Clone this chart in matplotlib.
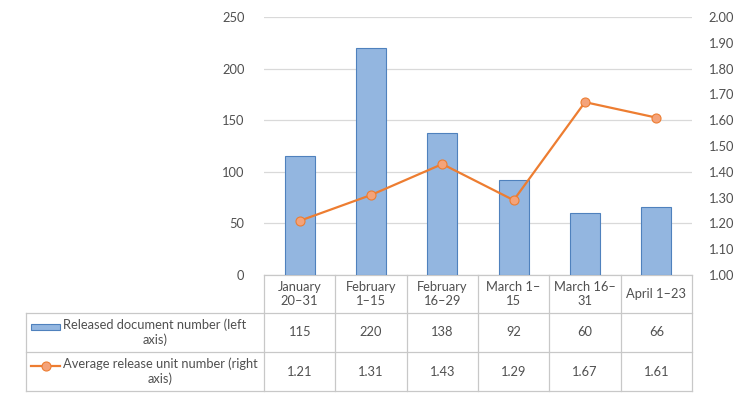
import numpy as np
import matplotlib
matplotlib.use("Agg")
import matplotlib.pyplot as plt
import matplotlib.transforms as mtransforms
from matplotlib.lines import Line2D
from matplotlib.patches import Rectangle

periods   = ["January\n20–31", "February\n1–15", "February\n16–29",
             "March 1–\n15", "March 16–\n31", "April 1–23"]
documents = [115, 220, 138, 92, 60, 66]
avg_units = [1.21, 1.31, 1.43, 1.29, 1.67, 1.61]
series_names = ["Released document number (left\naxis)",
                "Average release unit number (right\naxis)"]

BAR_FC  = '#93B6E0'
BAR_EC  = '#4F81BD'
LINE_C  = '#ED7D31'
MARK_FC = '#F4A37A'
GRID    = '#D9D9D9'
TXT     = '#505050'
FS      = 9.3

plt.rcParams['font.family'] = ['Lato', 'DejaVu Sans']

W, H = 739, 398
fig = plt.figure(figsize=(W / 100, H / 100), dpi=100, facecolor='white')
ax = fig.add_axes([264 / W, 1 - 275 / H, (692 - 264) / W, (275 - 17) / H])
ax2 = ax.twinx()

x = np.arange(len(periods))
ax.bar(x, documents, width=0.42, color=BAR_FC, edgecolor=BAR_EC, linewidth=0.8, zorder=3)
ax.set_xlim(-0.5, len(periods) - 0.5)
ax.set_ylim(0, 250)
ax.set_yticks(np.arange(0, 251, 50))
ax.yaxis.grid(True, color=GRID, lw=0.9, zorder=0)
ax.set_axisbelow(True)
ax.set_xticks([])
ax.tick_params(axis='y', length=0, pad=14, labelsize=FS, labelcolor=TXT)

ax2.plot(x, avg_units, color=LINE_C, lw=1.6, marker='o', ms=6.5,
         mfc=MARK_FC, mec=LINE_C, mew=0.8, zorder=4)
ax2.set_ylim(1.0, 2.0)
ax2.set_yticks(np.arange(1.0, 2.01, 0.1))
ax2.yaxis.set_major_formatter(matplotlib.ticker.FormatStrFormatter('%.2f'))
ax2.tick_params(axis='y', length=0, pad=12, labelsize=FS, labelcolor=TXT)

for a in (ax, ax2):
    for s in a.spines.values():
        s.set_visible(False)

# data table under the plot
trans = mtransforms.blended_transform_factory(ax.transData, ax.transAxes)
row_edges = [0, -38 / 258, -77 / 258, -116 / 258]
px = len(periods) / 428          # one pixel in data units along x
left_x = -0.5 - (264 - 26) * px
line_kw = dict(color='#C8C8C8', lw=0.9, transform=trans, clip_on=False)

# horizontal lines
ax.add_line(Line2D([-0.5, len(periods) - 0.5], [row_edges[0]] * 2, **line_kw))
for yv in row_edges[1:]:
    ax.add_line(Line2D([left_x, len(periods) - 0.5], [yv, yv], **line_kw))
# vertical lines
for xv in np.arange(-0.5, len(periods), 1.0):
    ax.add_line(Line2D([xv, xv], [row_edges[0], row_edges[-1]], **line_kw))
ax.add_line(Line2D([left_x, left_x], [row_edges[1], row_edges[-1]], **line_kw))

txt_kw = dict(transform=trans, ha='center', va='center', fontsize=FS,
              color=TXT, linespacing=1.2, clip_on=False)
for i, p in enumerate(periods):
    ax.text(i, (row_edges[0] + row_edges[1]) / 2, p, **txt_kw)
    ax.text(i, (row_edges[1] + row_edges[2]) / 2, str(documents[i]), **txt_kw)
    ax.text(i, (row_edges[2] + row_edges[3]) / 2, f"{avg_units[i]:.2f}", **txt_kw)

# row labels with legend keys
lab_kw = dict(txt_kw, ha='left', multialignment='center')
for r, name in enumerate(series_names):
    ax.text(left_x + 37 * px, (row_edges[r + 1] + row_edges[r + 2]) / 2, name, **lab_kw)

key_x0 = left_x + 5 * px
key_w = 29 * px
y_key1 = (row_edges[1] + row_edges[2]) / 2 + 6 / 258
ax.add_patch(Rectangle((key_x0, y_key1 - 3 / 258), key_w, 6 / 258, transform=trans,
                       facecolor=BAR_FC, edgecolor=BAR_EC, lw=0.8, clip_on=False))
y_key2 = (row_edges[2] + row_edges[3]) / 2 + 6 / 258
ax.add_line(Line2D([key_x0, key_x0 + key_w], [y_key2, y_key2], color=LINE_C,
                   lw=1.6, transform=trans, clip_on=False))
ax.add_line(Line2D([key_x0 + key_w / 2], [y_key2], marker='o', ms=6.5, mfc=MARK_FC,
                   mec=LINE_C, mew=0.8, transform=trans, clip_on=False))

fig.savefig('out.png', dpi=100, facecolor='white')
